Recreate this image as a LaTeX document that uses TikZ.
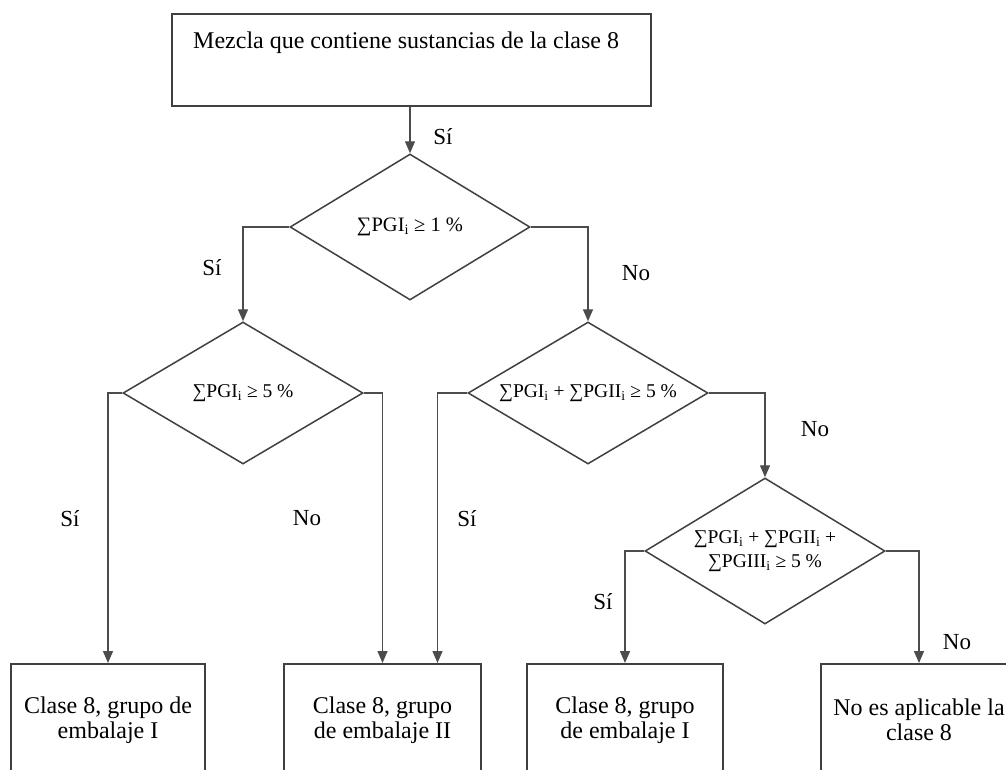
\documentclass[tikz,border=0pt]{standalone}
\usepackage{fontspec}
\setmainfont{Liberation Serif}
\usetikzlibrary{shapes.geometric,arrows.meta}
\tikzset{
  linec/.style={draw=black!75, line width=1.5pt},
  box/.style={linec, rectangle, inner sep=0pt, align=center, font=\fontsize{24}{25}\selectfont},
  dia/.style={linec, diamond, inner sep=0pt, aspect=1.65, align=center, font=\fontsize{19.5}{24}\selectfont},
  arr/.style={draw=black!70, line width=1.4pt, -{Triangle[width=10pt,length=12pt]}},
  lab/.style={inner sep=0pt, font=\fontsize{23}{24}\selectfont},
}
\newcommand{\sm}{\char"2211}
\begin{document}
\begin{tikzpicture}[x=1pt,y=-1pt]
\useasboundingbox (0,0) rectangle (1006,769);
\clip (0,0) rectangle (1006,769);
\fill[white] (0,0) rectangle (1006,769);
% top box
\node[box, minimum width=479pt, minimum height=92pt] (top) at (411.5,60) {};
\node[anchor=base west, inner sep=0pt, font=\fontsize{24}{25}\selectfont] (toptext) at (193,48) {Mezcla que contiene sustancias de la clase 8};
% diamonds
\node[dia, minimum width=240pt, minimum height=146pt, font=\fontsize{20.5}{24}\selectfont] (d1) at (410,227) {\sm PGI\textsubscript{i} ≥ 1 \%};
\node[dia, minimum width=240pt, minimum height=142pt] (d2) at (243,393) {\sm PGI\textsubscript{i} ≥ 5 \%};
\node[dia, minimum width=240pt, minimum height=142pt] (d3) at (588,393) {\sm PGI\textsubscript{i} + \sm PGII\textsubscript{i} ≥ 5 \%};
\node[dia, minimum width=240pt, minimum height=146pt] (d4) at (765,551) {\sm PGI\textsubscript{i} + \sm PGII\textsubscript{i} +\\ \sm PGIII\textsubscript{i} ≥ 5 \%};
% bottom boxes
\node[box, anchor=north, minimum width=194pt, minimum height=112pt] (b1) at (108,663) {Clase 8, grupo de\\embalaje I};
\node[box, anchor=north, minimum width=197pt, minimum height=112pt] (b2) at (382.5,663) {Clase 8, grupo\\de embalaje II};
\node[box, anchor=north, minimum width=196pt, minimum height=112pt] (b3) at (625,663) {Clase 8, grupo\\de embalaje I};
\node[box, anchor=north, minimum width=196pt, minimum height=112pt] (b4) at (919,663) {No es aplicable la\\clase 8};
% connectors
\draw[arr] (top.south -| d1.north) -- (d1.north);
\draw[arr] (d1.west) -| (d2.north);
\draw[arr] (d1.east) -| (d3.north);
\draw[arr] (d2.west) -| (b1.north);
\draw[arr] (d2.east) -| (b2.north);
\draw[arr] (d3.west) -| ([xshift=55pt]b2.north);
\draw[arr] (d3.east) -| (d4.north);
\draw[arr] (d4.west) -| (b3.north);
\draw[arr] (d4.east) -| (b4.north);
% labels
\node[lab] (l1) at (443,137) {Sí};
\node[lab] (l2) at (212,268) {Sí};
\node[lab] (l3) at (636,273) {No};
\node[lab] (l4) at (70,519) {Sí};
\node[lab] (l5) at (307,518) {No};
\node[lab] (l6) at (467,519) {Sí};
\node[lab] (l7) at (815,429) {No};
\node[lab] (l8) at (603,602) {Sí};
\node[lab] (l9) at (957,642) {No};
\end{tikzpicture}
\end{document}
